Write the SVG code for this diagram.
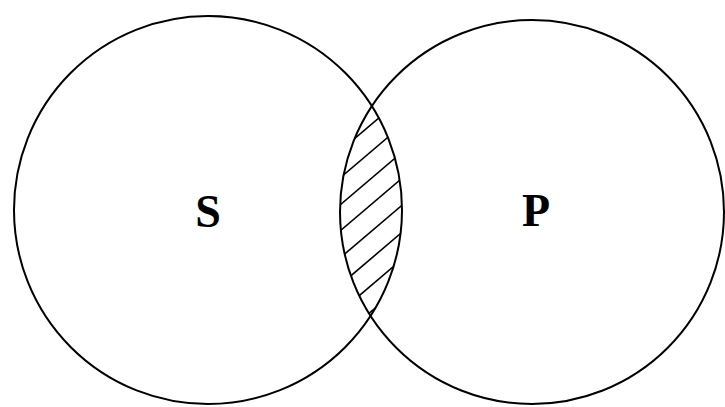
<svg xmlns="http://www.w3.org/2000/svg" width="725" height="407" viewBox="0 0 725 407">
<style>
.c{fill:none;stroke:#000;stroke-width:2}
.h{stroke:#000;stroke-width:1.6}
.t{font-family:"Liberation Serif",serif;font-weight:bold;font-size:46px;fill:#000;text-anchor:middle}
</style>
<defs>
<clipPath id="lens"><path d="M371.84 106.1 A194 194 0 0 1 370.54 315.9 A192 192 0 0 1 371.84 106.1 Z"/></clipPath>
</defs>
<rect width="725" height="407" fill="#fff"/>
<g id="hatch" clip-path="url(#lens)">
<line class="h" x1="320" y1="168" x2="420" y2="83"/>
<line class="h" x1="320" y1="195" x2="420" y2="110"/>
<line class="h" x1="320" y1="222" x2="420" y2="137"/>
<line class="h" x1="320" y1="248" x2="420" y2="163"/>
<line class="h" x1="320" y1="275" x2="420" y2="190"/>
<line class="h" x1="320" y1="302" x2="420" y2="217"/>
<line class="h" x1="320" y1="329" x2="420" y2="244"/>
<line class="h" x1="320" y1="355" x2="420" y2="270"/>
</g>
<g id="S">
<circle class="c" cx="208" cy="210" r="194"/>
<text class="t" x="208" y="227">S</text>
</g>
<g id="P">
<circle class="c" cx="532" cy="212" r="192"/>
<text class="t" x="536" y="226">P</text>
</g>
</svg>
